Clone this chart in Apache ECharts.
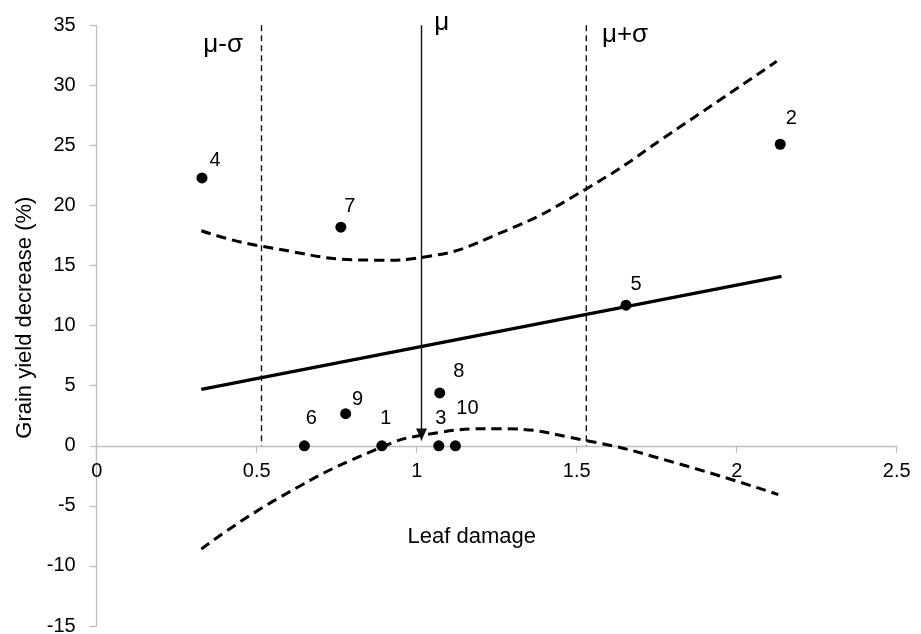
<!DOCTYPE html>
<html>
<head>
<meta charset="utf-8">
<script src="https://cdn.jsdelivr.net/npm/echarts@6/dist/echarts.min.js"></script>
<style>html,body{margin:0;padding:0;background:#fff;}#chart{width:921px;height:634px;}</style>
</head>
<body>
<div id="chart"></div>
<script>
// ---- data ----
const pointIds = ['1','2','3','4','5','6','7','8','9','10'];
const leafDamage = [0.891, 2.136, 1.069, 0.329, 1.654, 0.649, 0.763, 1.072, 0.778, 1.121];
const yieldDecrease = [0, 25.1, 0, 22.3, 11.7, 0, 18.2, 4.4, 2.67, 0];

const regX = [0.327, 2.14];
const regY = [4.69, 14.1];

const upperX = [0.327, 0.517, 0.885, 1.02, 1.26, 1.531, 1.823, 2.125];
const upperY = [17.9, 16.6, 15.45, 15.7, 17.7, 21.4, 26.55, 32.0];

const lowerX = [0.327, 0.573, 0.885, 1.031, 1.25, 1.528, 1.802, 2.13];
const lowerY = [-8.6, -4.28, -0.17, 0.94, 1.42, 0.44, -1.37, -4.06];

const muMinusSigma = 0.515;
const mu = 1.015;
const muPlusSigma = 1.53;
const refLineTop = 35;
const refLineBottom = 0;
const muArrowTip = 0.44;

const refLabels = ['μ-σ', 'μ', 'μ+σ'];
const refLabelX = [0.395, 1.078, 1.651];
const refLabelY = [33.4, 35, 34.2];

const xTicks = {min: 0, max: 2.5, interval: 0.5};
const yTicks = {min: -15, max: 35, interval: 5};

// ---- styling (not data) ----
const labelOffsets = [[4,-27],[11,-26],[2,-27],[13,-17],[10,-21],[7,-27],[9,-21],[19,-21],[12,-14],[12,-37]];
const refLabelOffsets = [[0,0],[0,-2],[0,0]];
const FONT = 'Liberation Sans, Arial, sans-serif';
const TXT = '#000';
const AX = '#bfbfbf';
const W = 921, H = 634;
const G = {left: 96.7, right: 24.3, top: 25.3, bottom: 8};

const zip = (a, b) => a.map((v, i) => [v, b[i]]);

// place the x axis (line, ticks, labels, name) on y = 0, as in the reference
const gridH = H - G.top - G.bottom;
const xAxisOffset = -gridH * (0 - yTicks.min) / (yTicks.max - yTicks.min);

const chart = echarts.init(document.getElementById('chart'), null, {renderer: 'canvas'});
chart.setOption({
  animation: false,
  backgroundColor: '#fff',
  grid: Object.assign({containLabel: false, outerBoundsMode: 'none'}, G),
  xAxis: {
    type: 'value', min: xTicks.min, max: xTicks.max, interval: xTicks.interval,
    position: 'bottom', offset: xAxisOffset,
    name: 'Leaf damage', nameLocation: 'middle', nameGap: 80, nameMoveOverlap: false,
    nameTextStyle: {fontFamily: FONT, fontSize: 22, color: TXT, padding: [0, 50, 0, 0]},
    axisLine: {onZero: false, lineStyle: {color: AX, width: 1.3}},
    axisTick: {show: true, length: 7, lineStyle: {color: AX, width: 1.3}},
    axisLabel: {fontFamily: FONT, fontSize: 20, color: TXT, margin: 16},
    splitLine: {show: false}
  },
  yAxis: {
    type: 'value', min: yTicks.min, max: yTicks.max, interval: yTicks.interval,
    name: 'Grain yield decrease (%)', nameLocation: 'middle', nameRotate: 90, nameGap: 61, nameMoveOverlap: false,
    nameTextStyle: {fontFamily: FONT, fontSize: 22, color: TXT, padding: [0, 0, 0, 16]},
    axisLine: {show: true, onZero: false, lineStyle: {color: AX, width: 1.3}},
    axisTick: {show: true, length: 7, lineStyle: {color: AX, width: 1.3}},
    axisLabel: {fontFamily: FONT, fontSize: 20, color: TXT, margin: 21},
    splitLine: {show: false}
  },
  series: [
    {
      type: 'line', name: 'mu-sigma', data: [[muMinusSigma, refLineTop], [muMinusSigma, refLineBottom]],
      symbol: 'none', lineStyle: {color: '#111', width: 1.4, type: [6, 4]}, z: 2
    },
    {
      type: 'line', name: 'mu+sigma', data: [[muPlusSigma, refLineTop], [muPlusSigma, refLineBottom]],
      symbol: 'none', lineStyle: {color: '#111', width: 1.4, type: [6, 4]}, z: 2
    },
    {
      type: 'line', name: 'mu', 
      data: [
        {value: [mu, refLineTop], symbol: 'none'},
        {value: [mu, muArrowTip], symbol: 'triangle', symbolSize: [11, 12], symbolRotate: 180, symbolOffset: [0, -6]}
      ],
      showAllSymbol: true,
      itemStyle: {color: '#111', opacity: 1},
      lineStyle: {color: '#111', width: 1.4}, z: 3
    },
    {
      type: 'line', name: 'regression', data: zip(regX, regY), symbol: 'none',
      lineStyle: {color: '#000', width: 3.2}, z: 4
    },
    {
      type: 'line', name: 'upper', data: zip(upperX, upperY), symbol: 'none', smooth: true,
      lineStyle: {color: '#000', width: 3, type: [10, 6]}, z: 4
    },
    {
      type: 'line', name: 'lower', data: zip(lowerX, lowerY), symbol: 'none', smooth: true,
      lineStyle: {color: '#000', width: 3, type: [10, 6]}, z: 4
    },
    {
      type: 'scatter', name: 'points',
      data: leafDamage.map((x, i) => ({
        value: [x, yieldDecrease[i]], name: pointIds[i],
        label: {offset: labelOffsets[i]}
      })),
      symbolSize: 11, itemStyle: {color: '#000', opacity: 1},
      label: {show: true, position: 'inside', formatter: p => p.name, fontFamily: FONT, fontSize: 20, color: TXT, textBorderWidth: 0, align: 'center', verticalAlign: 'middle'},
      z: 5
    },
    {
      type: 'scatter', name: 'refLabels', clip: false,
      data: refLabels.map((t, i) => ({value: [refLabelX[i], refLabelY[i]], name: t, label: {offset: refLabelOffsets[i]}})),
      symbolSize: 1, itemStyle: {color: 'rgba(0,0,0,0)', opacity: 1},
      label: {show: true, position: 'inside', formatter: p => p.name, fontFamily: FONT, fontSize: 26, color: TXT, textBorderWidth: 0, align: 'center', verticalAlign: 'middle'},
      z: 5
    }
  ]
});
</script>
</body>
</html>
